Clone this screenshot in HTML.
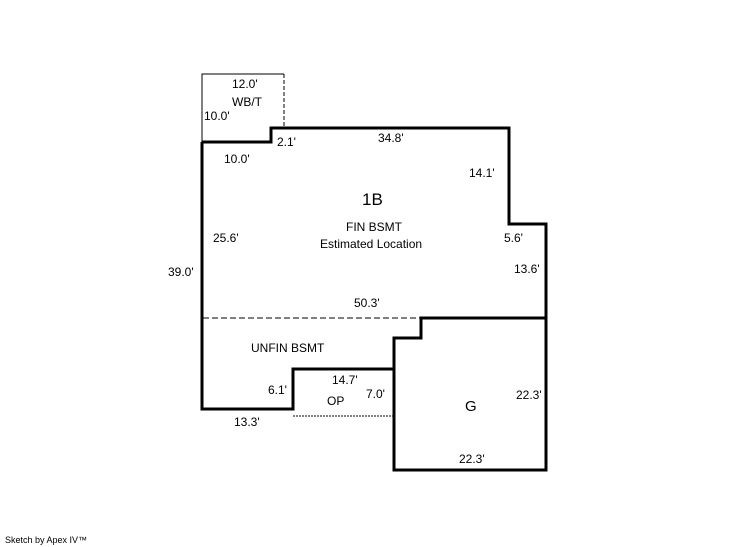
<!DOCTYPE html>
<html><head><style>
body{margin:0;background:#fff;}
svg{display:block;}
text{font-family:"Liberation Sans",Arial,sans-serif;font-size:12px;fill:#000;}
</style></head><body>
<svg width="746" height="547" viewBox="0 0 746 547" xmlns="http://www.w3.org/2000/svg">
<rect width="746" height="547" fill="#fff"/>
<!-- WB/T -->
<path d="M202 142 V74 H284" fill="none" stroke="#000" stroke-width="1"/>
<line x1="284" y1="74" x2="284" y2="128" stroke="#000" stroke-width="1" stroke-dasharray="4,2"/>
<!-- main outline -->
<path d="M202 142 H271 V128 H509 V224 H546 V470 H394 V338 H421 V318 H546" fill="none" stroke="#000" stroke-width="3"/>
<path d="M202 142 V409 H293 V369 H394" fill="none" stroke="#000" stroke-width="3"/>
<line x1="203" y1="318" x2="421" y2="318" stroke="#000" stroke-width="1" stroke-dasharray="6,3"/>
<line x1="293" y1="416" x2="394" y2="416" stroke="#000" stroke-width="1" stroke-dasharray="2,1"/>
<text x="232" y="88">12.0'</text>
<text x="232" y="106">WB/T</text>
<text x="204" y="120">10.0'</text>
<text x="277" y="146">2.1'</text>
<text x="378" y="142">34.8'</text>
<text x="224" y="163">10.0'</text>
<text x="469" y="177">14.1'</text>
<text x="362" y="205" style="font-size:17px">1B</text>
<text x="346" y="231">FIN BSMT</text>
<text x="320" y="248">Estimated Location</text>
<text x="213" y="242">25.6'</text>
<text x="504" y="242">5.6'</text>
<text x="514" y="273">13.6'</text>
<text x="168" y="276">39.0'</text>
<text x="354" y="307">50.3'</text>
<text x="251" y="352">UNFIN BSMT</text>
<text x="332" y="384">14.7'</text>
<text x="268" y="394">6.1'</text>
<text x="366" y="398">7.0'</text>
<text x="327" y="405">OP</text>
<text x="516" y="399">22.3'</text>
<text x="465" y="411" style="font-size:15px">G</text>
<text x="234" y="426">13.3'</text>
<text x="459" y="463">22.3'</text>
<text x="5" y="543" style="font-size:9px">Sketch by Apex IV™</text>
</svg>
</body></html>
